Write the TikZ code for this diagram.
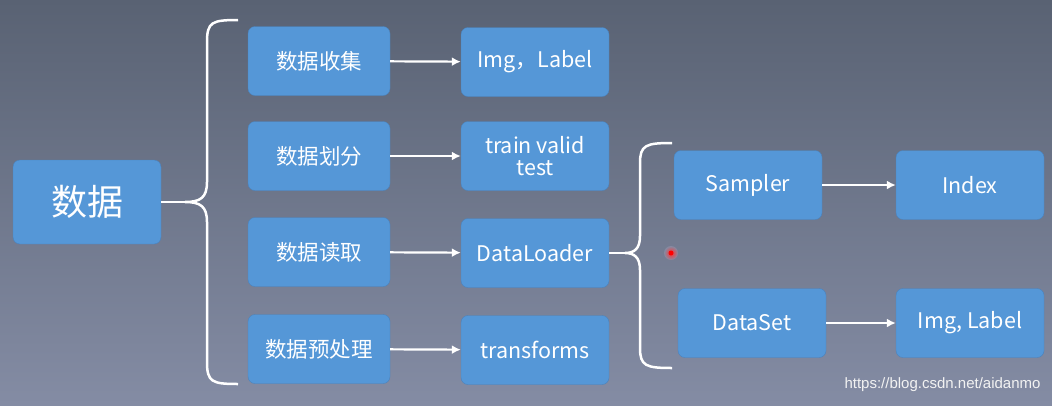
\documentclass[tikz,border=0pt]{standalone}
\usepackage{fontspec}
\setmainfont{Noto Sans CJK SC}
\newfontfamily\markfont{Liberation Sans}
\usetikzlibrary{positioning, arrows.meta}
\definecolor{boxblue}{HTML}{5597D7}
\definecolor{boxedge}{HTML}{4A82BD}
\definecolor{bgtop}{HTML}{596273}
\definecolor{bgbot}{HTML}{848CA4}
\tikzset{
	box/.style={draw=boxedge, fill=boxblue, rounded corners=7pt, text=white,
		minimum width=148pt, minimum height=69pt, align=center, font=\fontsize{21.5}{24}\selectfont},
	link/.style={draw=white, line width=2.2pt, -{Latex[length=9pt,width=9pt]}},
	brace/.style={draw=white, line width=2.5pt}
}
\begin{document}
\begin{tikzpicture}[x=1pt, y=-1pt]
	\shade[top color=bgtop, bottom color=bgbot] (0,0) rectangle (1052,405);
	\useasboundingbox (0,0) rectangle (1052,405);

	% left column
	\node[box, minimum width=148pt, minimum height=84pt, font=\fontsize{36}{40}\selectfont] (data) at (87,202) {数据};

	% middle columns
	\node[box, minimum width=142pt] (collect) at (319,61) {数据收集};
	\node[box, minimum width=142pt] (split) at (319,156) {数据划分};
	\node[box, minimum width=142pt] (read) at (319,252) {数据读取};
	\node[box, minimum width=142pt] (prep) at (319,349) {数据预处理};

	\node[box] (img) at (535,62) {Img，Label};
	\node[box] (tvt) at (535,156) {train valid\\[-2pt]test};
	\node[box] (loader) at (535,253) {DataLoader};
	\node[box] (trans) at (535,350) {transforms};

	% right columns
	\node[box] (sampler) at (748,185) {Sampler};
	\node[box] (dataset) at (752,323) {DataSet};
	\node[box] (index) at (970,185) {Index};
	\node[box] (imglabel) at (970,323) {Img, Label};

	% arrows
	\draw[link] (collect) -- (img);
	\draw[link] (split) -- (tvt);
	\draw[link] (read) -- (loader);
	\draw[link] (prep) -- (trans);
	\draw[link] (sampler) -- (index);
	\draw[link] (dataset) -- (imglabel);

	% braces
	\coordinate (tip1) at (185,202);
	\draw[brace] (data.east) -- (tip1);
	\draw[brace] (238,20) .. controls (212,20) and (207,22) .. (207,42) -- (207,182)
		.. controls (207,198) and (200,202) .. (tip1)
		.. controls (200,202) and (207,206) .. (207,222) -- (207,362)
		.. controls (207,382) and (212,384) .. (238,384);
	\coordinate (tip2) at (625,253);
	\draw[brace] (loader.east) -- (tip2);
	\draw[brace] (672,143) .. controls (646,143) and (640,145) .. (640,163) -- (640,236)
		.. controls (640,249) and (634,253) .. (tip2)
		.. controls (634,253) and (640,257) .. (640,270) -- (640,348)
		.. controls (640,366) and (646,368) .. (672,368);

	% pointer and watermark
	\shade[inner color=red!80!white, outer color=red!0!bgbot] (671,253) circle (7pt);
	\fill[red] (671,253) circle (2.5pt);
	\node[text=white!90!gray, font=\fontsize{15}{17}\selectfont\markfont, anchor=east] (mark) at (1044,385) {https://blog.csdn.net/aidanmo};
\end{tikzpicture}
\end{document}
